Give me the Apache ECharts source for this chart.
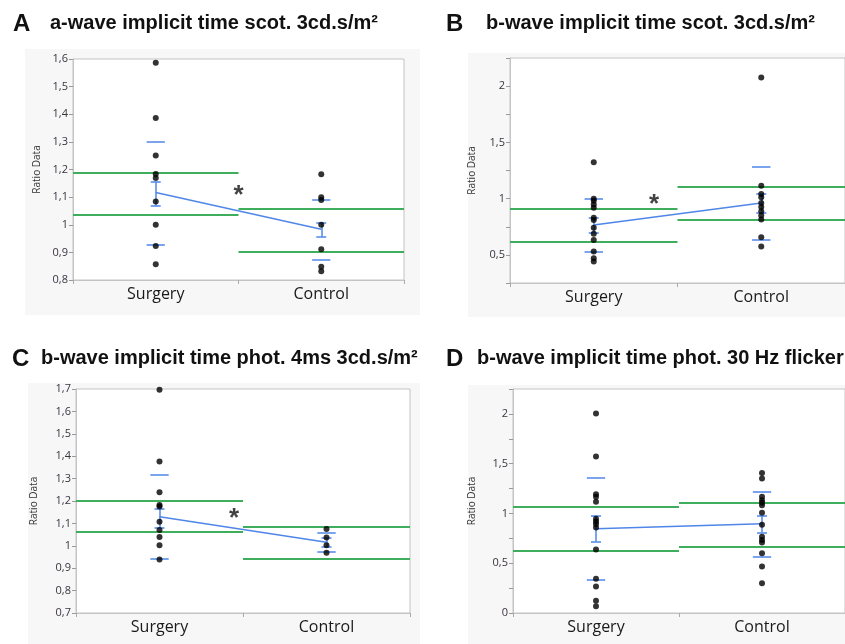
<!DOCTYPE html>
<html><head><meta charset="utf-8">
<script src="https://cdn.jsdelivr.net/npm/echarts@6/dist/echarts.min.js"></script>
<style>html,body{margin:0;padding:0;background:#fff}#c{width:845px;height:644px}</style>
</head><body><div id="c"></div>
<script>
// ---------- data ----------
const categories = ['Surgery', 'Control'];

const titlesLetters = ['A', 'B', 'C', 'D'];
const titlesText = [
  'a-wave implicit time scot. 3cd.s/m²',
  'b-wave implicit time scot. 3cd.s/m²',
  'b-wave implicit time phot. 4ms 3cd.s/m²',
  'b-wave implicit time phot. 30 Hz flicker'
];

// Panel A
const aSurgery = [1.586, 1.386, 1.251, 1.184, 1.169, 1.084, 1.0, 0.923, 0.857];
const aControl = [1.183, 1.10, 1.09, 1.0, 0.911, 0.848, 0.832];
const aMean = [1.117, 0.984];
const aSE = [[1.069, 1.156], [0.957, 1.008]];
const aSD = [[0.927, 1.299], [0.875, 1.089]];
const aGreen = [[1.037, 1.190], [0.904, 1.057]];
const aStar = [1.0, 1.13];

// Panel B
const bSurgery = [1.324, 1.0, 0.982, 0.947, 0.918, 0.829, 0.809, 0.741, 0.688, 0.632, 0.529, 0.47, 0.441];
const bControl = [2.076, 1.115, 1.041, 1.012, 0.962, 0.926, 0.888, 0.85, 0.815, 0.656, 0.574];
const bMean = [0.765, 0.962];
const bSE = [[0.70, 0.83], [0.874, 1.04]];
const bSD = [[0.529, 0.997], [0.635, 1.282]];
const bGreen = [[0.618, 0.909], [0.815, 1.106]];
const bStar = [0.86, 1.01];

// Panel C
const cSurgery = [1.697, 1.376, 1.239, 1.182, 1.175, 1.107, 1.07, 1.039, 1.003, 0.939];
const cControl = [1.075, 1.037, 1.003, 0.969];
const cMean = [1.13, 1.016];
const cSE = [[1.081, 1.166], [0.996, 1.034]];
const cSD = [[0.943, 1.316], [0.973, 1.057]];
const cGreen = [[1.061, 1.199], [0.943, 1.084]];
const cStar = [0.946, 1.15];

// Panel D
const dSurgery = [2.003, 1.573, 1.193, 1.167, 1.117, 0.947, 0.92, 0.893, 0.86, 0.637, 0.343, 0.267, 0.123, 0.067];
const dControl = [1.407, 1.35, 1.167, 1.133, 1.107, 1.083, 1.007, 0.887, 0.767, 0.733, 0.707, 0.6, 0.467, 0.3];
const dMean = [0.847, 0.897];
const dSE = [[0.717, 0.977], [0.81, 0.977]];
const dSD = [[0.33, 1.36], [0.563, 1.22]];
const dGreen = [[0.623, 1.063], [0.667, 1.11]];
const dStar = null;

// y axis scales: [min, max, interval, label step]
const aScale = [0.8, 1.6, 0.1, 0.1];
const bScale = [0.25, 2.25, 0.25, 0.5];
const cScale = [0.7, 1.7, 0.1, 0.1];
const dScale = [0, 2.25, 0.25, 0.5];

// ---------- layout ----------
const layout = [
  {grid: {left: 73, top: 59, width: 331, height: 221}, bg: [25, 49, 395, 266], letterX: 13, textX: 50, titleY: 22, nameGap: 31},
  {grid: {left: 510, top: 58, width: 336, height: 225}, bg: [468, 53, 380, 264], letterX: 446, textX: 486, titleY: 22, nameGap: 33},
  {grid: {left: 76, top: 389, width: 334, height: 224}, bg: [28, 383, 392, 262], letterX: 12, textX: 41, titleY: 357, nameGap: 37},
  {grid: {left: 513, top: 389, width: 333, height: 224}, bg: [468, 385, 380, 260], letterX: 446, textX: 477, titleY: 357, nameGap: 36}
];

const panelData = [
  {s: aSurgery, c: aControl, m: aMean, se: aSE, sd: aSD, g: aGreen, star: aStar, sc: aScale},
  {s: bSurgery, c: bControl, m: bMean, se: bSE, sd: bSD, g: bGreen, star: bStar, sc: bScale},
  {s: cSurgery, c: cControl, m: cMean, se: cSE, sd: cSD, g: cGreen, star: cStar, sc: cScale},
  {s: dSurgery, c: dControl, m: dMean, se: dSE, sd: dSD, g: dGreen, star: dStar, sc: dScale}
];

const GREEN = '#3fae5c';
const BLUE = '#4f86e8';
const FONT = '"Open Sans", "Noto Sans", sans-serif';

const grids = [], xAxes = [], yAxes = [], series = [], graphics = [];

layout.forEach((L, i) => {
  graphics.push({type: 'rect', shape: {x: L.bg[0], y: L.bg[1], width: L.bg[2], height: L.bg[3]}, style: {fill: '#f7f7f7'}, z: -10});
  graphics.push({type: 'text', left: L.letterX, top: L.titleY - 10, style: {text: titlesLetters[i], font: 'bold 24px "Liberation Sans", Arial, sans-serif', fill: '#111'}});
  graphics.push({type: 'text', left: L.textX, top: L.titleY - 9, style: {text: titlesText[i], font: 'bold 20px "Liberation Sans", Arial, sans-serif', fill: '#111'}});
});

panelData.forEach((P, i) => {
  const L = layout[i];
  grids.push(Object.assign({show: true, backgroundColor: '#fff', borderColor: '#c4c4c4', borderWidth: 1, containLabel: false}, L.grid));
  const [ymin, ymax, yint, lstep] = P.sc;
  xAxes.push({
    type: 'category', gridIndex: i, data: categories, boundaryGap: true,
    axisLine: {lineStyle: {color: '#c4c4c4'}},
    axisTick: {show: true, length: 4, lineStyle: {color: '#aaa'}},
    axisLabel: {color: '#1a1a1a', fontSize: 16, fontFamily: FONT, margin: 6}
  });
  xAxes.push({type: 'value', gridIndex: i, min: 0, max: 2, show: false});
  yAxes.push({
    type: 'value', gridIndex: i, min: ymin, max: ymax, interval: yint,
    name: 'Ratio Data', nameLocation: 'middle', nameGap: L.nameGap,
    nameTextStyle: {fontSize: 10, color: '#333', fontFamily: FONT},
    axisLine: {show: true, lineStyle: {color: '#c4c4c4'}},
    axisTick: {show: true, length: 4, lineStyle: {color: '#999'}},
    splitLine: {show: false},
    axisLabel: {
      color: '#3a3340', fontSize: 11, fontFamily: FONT, margin: 5,
      formatter: v => {
        const r = v / lstep;
        if (Math.abs(r - Math.round(r)) > 1e-6) return '';
        return String(+v.toFixed(2)).replace('.', ',');
      }
    }
  });
  const cx = 2 * i, vx = 2 * i + 1;
  // green lines
  const gCoords = [];
  P.g.forEach((pair, k) => {
    pair.forEach(v => gCoords.push({coords: [[k, v], [k + 1, v]]}));
  });
  series.push({type: 'lines', coordinateSystem: 'cartesian2d', xAxisIndex: vx, yAxisIndex: i, polyline: false,
    lineStyle: {color: GREEN, width: 2, opacity: 1}, data: gCoords, z: 2, silent: true});
  // blue: mean line, SE bars, SD dashes
  const bCoords = [];
  bCoords.push({coords: [[0.5, P.m[0]], [1.5, P.m[1]]]});
  P.se.forEach((pair, k) => {
    const x = k + 0.5;
    bCoords.push({coords: [[x, pair[0]], [x, pair[1]]]});
    pair.forEach(v => bCoords.push({coords: [[x - 0.03, v], [x + 0.03, v]]}));
  });
  P.sd.forEach((pair, k) => {
    const x = k + 0.5;
    pair.forEach(v => bCoords.push({coords: [[x - 0.055, v], [x + 0.055, v]]}));
  });
  series.push({type: 'lines', coordinateSystem: 'cartesian2d', xAxisIndex: vx, yAxisIndex: i, polyline: false,
    lineStyle: {color: BLUE, width: 1.5, opacity: 1}, data: bCoords, z: 3, silent: true});
  // points
  series.push({type: 'scatter', xAxisIndex: cx, yAxisIndex: i, symbolSize: 6,
    itemStyle: {color: '#000'}, z: 4,
    data: P.s.map(v => [categories[0], v]).concat(P.c.map(v => [categories[1], v]))});
  // asterisk
  if (P.star) {
    series.push({type: 'scatter', xAxisIndex: vx, yAxisIndex: i, symbolSize: 1,
      itemStyle: {color: 'rgba(0,0,0,0)'}, z: 5,
      label: {show: true, position: 'inside', formatter: '*', fontSize: 26, fontWeight: 'bold', color: '#111', offset: [0, 7], fontFamily: '"Liberation Sans", Arial, sans-serif'},
      data: [P.star]});
  }
});

const chart = echarts.init(document.getElementById('c'), null, {renderer: 'canvas'});
chart.setOption({
  animation: false,
  backgroundColor: '#fff',
  grid: grids, xAxis: xAxes, yAxis: yAxes, series: series, graphic: graphics
});
</script>
</body></html>
